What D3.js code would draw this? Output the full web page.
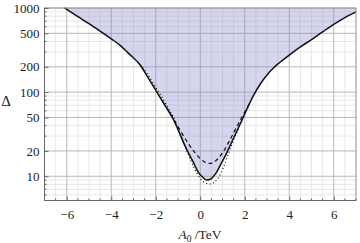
<!DOCTYPE html>
<html><head><meta charset="utf-8">
<script src="https://cdn.jsdelivr.net/npm/d3@7"></script>
<style>body{margin:0;background:#fff}svg{display:block}</style>
</head><body><div id="c"></div>
<script>
const xTicks=[-6,-4,-2,0,2,4,6];
const yTicks=[10,20,50,100,200,500,1000];
const solidX=[-6.1,-5.5,-5,-4.5,-4,-3.6,-3.2,-2.7,-2.4,-2.1,-1.8,-1.5,-1.2,-0.9,-0.6,-0.3,-0.1,0.1,0.3,0.5,0.7,0.9,1.1,1.4,1.7,2.0,2.2,2.4,2.7,3.0,3.3,3.6,4.0,4.5,5.0,5.5,6.0,6.5,7.0];
const solidY=[1000,790,650,530,430,360,285,210,157,116,86,64,47,31,20.5,14.5,11.3,9.8,9.0,9.4,10.8,13.5,17,25,37,55,72,92,125,160,195,228,276,345,420,520,640,770,900];
const dashX=[-1.5,-1.2,-0.9,-0.6,-0.3,0.0,0.2,0.45,0.7,1.0,1.3,1.6,1.9,2.2];
const dashY=[64,48,35,26,20,16.2,14.8,14.2,15.3,19,26,37,52,72];
const dotX=[-2.8,-2.4,-2.1,-1.8,-1.5,-1.2,-0.9,-0.6,-0.3,0.0,0.2,0.45,0.7,0.9,1.1,1.4,1.7,2.0];
const dotY=[225,168,126,94,69,50,32,20,13,9.4,8.4,8.1,8.8,10.5,14,23,36,54];

const W=360,H=243,m={l:44.5,r:356,t:8,b:200.5};
const FONT='"Liberation Serif","Times New Roman","DejaVu Serif",serif';
const svg=d3.select("#c").append("svg").attr("width",W).attr("height",H);
const x=d3.scaleLinear().domain([-7,7]).range([m.l,m.r]);
const y=d3.scaleLog().domain([5.15,1000]).range([m.b,m.t]);
const g=svg.append("g");
const xMinor=d3.range(-7,7.01,0.5).filter(v=>!xTicks.includes(v));
const yMinor=[];[1,10,100].forEach(d=>{for(let k=1;k<10;k++){const v=d*k;if(v>=5.15&&v<=1000&&!yTicks.includes(v))yMinor.push(v);}});
g.selectAll(".gxm").data(xMinor).join("line").attr("x1",d=>x(d)).attr("x2",d=>x(d)).attr("y1",m.t).attr("y2",m.b).attr("stroke","#e8e8e8").attr("stroke-width",1);
g.selectAll(".gym").data(yMinor).join("line").attr("y1",d=>y(d)).attr("y2",d=>y(d)).attr("x1",m.l).attr("x2",m.r).attr("stroke","#e8e8e8").attr("stroke-width",1);
g.selectAll(".gx").data(xTicks).join("line").attr("x1",d=>x(d)).attr("x2",d=>x(d)).attr("y1",m.t).attr("y2",m.b).attr("stroke","#b8b8b8").attr("stroke-width",1);
g.selectAll(".gy").data(yTicks).join("line").attr("y1",d=>y(d)).attr("y2",d=>y(d)).attr("x1",m.l).attr("x2",m.r).attr("stroke","#b8b8b8").attr("stroke-width",1);
const pts=solidX.map((v,i)=>[v,solidY[i]]);
const area=d3.area().x(d=>x(d[0])).y0(y(1000)).y1(d=>y(d[1])).curve(d3.curveMonotoneX);
g.append("path").datum(pts).attr("d",area).attr("fill","#7c7cc6").attr("fill-opacity",0.32);
const line=d3.line().x(d=>x(d[0])).y(d=>y(d[1])).curve(d3.curveMonotoneX);
g.append("path").datum(dotX.map((v,i)=>[v,dotY[i]])).attr("d",line).attr("fill","none").attr("stroke","#111").attr("stroke-width",1.2).attr("stroke-dasharray","1,2.5");
g.append("path").datum(dashX.map((v,i)=>[v,dashY[i]])).attr("d",line).attr("fill","none").attr("stroke","#111").attr("stroke-width",1.2).attr("stroke-dasharray","4,3");
g.append("path").datum(pts).attr("d",line).attr("fill","none").attr("stroke","#111").attr("stroke-width",1.5);
svg.append("rect").attr("x",m.l).attr("y",m.t).attr("width",m.r-m.l).attr("height",m.b-m.t).attr("fill","none").attr("stroke","#999").attr("stroke-width",1);
svg.append("line").attr("x1",m.l).attr("x2",m.l).attr("y1",m.t).attr("y2",m.b).attr("stroke","#666");
svg.append("line").attr("x1",m.l).attr("x2",m.r).attr("y1",m.b).attr("y2",m.b).attr("stroke","#666");
const xAxis=d3.axisBottom(x).tickValues(xTicks).tickSize(-4).tickPadding(9).tickFormat(d=>d<0?"\u2212"+Math.abs(d):d);
const ax=svg.append("g").attr("transform",`translate(0,${m.b})`).call(xAxis).attr("font-family",FONT).attr("font-size",13);
ax.select(".domain").remove();
ax.selectAll(".tick line").attr("stroke","#666");
ax.selectAll("text").attr("fill","#222").style("font-family",FONT);
svg.selectAll(".xmt").data(xMinor).join("line").attr("x1",d=>x(d)).attr("x2",d=>x(d)).attr("y1",m.b).attr("y2",m.b-2).attr("stroke","#666");
const yAxis=d3.axisLeft(y).tickValues(yTicks).tickSize(-4).tickPadding(5).tickFormat(d3.format("d"));
const ay=svg.append("g").attr("transform",`translate(${m.l},0)`).call(yAxis).attr("font-family",FONT).attr("font-size",13);
ay.select(".domain").remove();
ay.selectAll(".tick line").attr("stroke","#666");
ay.selectAll("text").attr("fill","#222").style("font-family",FONT);
svg.selectAll(".ymt").data(yMinor).join("line").attr("y1",d=>y(d)).attr("y2",d=>y(d)).attr("x1",m.l).attr("x2",m.l+2).attr("stroke","#666");
const xl=svg.append("text").attr("x",200).attr("y",239).attr("text-anchor","middle").style("font-family",FONT).style("font-size","13.5px").attr("fill","#222");
xl.append("tspan").text("A").style("font-style","italic");
xl.append("tspan").text("0").attr("dy",3).style("font-size","9.5px");
xl.append("tspan").text(" /TeV").attr("dy",-3);
svg.append("text").attr("x",6).attr("y",106).attr("text-anchor","middle").style("font-family",FONT).style("font-size","15px").attr("fill","#222").text("\u0394");
</script></body></html>
